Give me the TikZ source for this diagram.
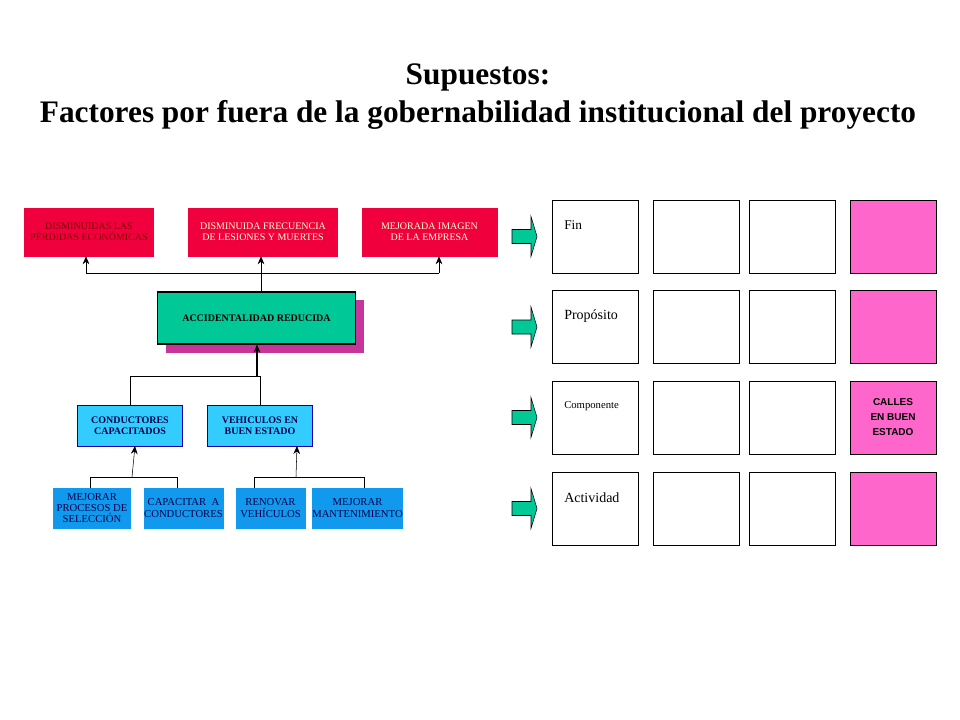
\documentclass[tikz,border=0pt]{standalone}
\usepackage{fontspec}
\setmainfont{Liberation Serif}
\newfontfamily\callesfont{Liberation Sans}
\usetikzlibrary{arrows.meta}
\definecolor{rojo}{HTML}{F0003C}
\definecolor{verde}{HTML}{00C896}
\definecolor{celeste}{HTML}{33CCFF}
\definecolor{azul}{HTML}{1199EE}
\definecolor{magenta}{HTML}{C8359A}
\definecolor{rosa}{HTML}{FF66CC}
\definecolor{amarillo}{HTML}{FFFFCC}
\begin{document}
\begin{tikzpicture}[x=0.75pt,y=-0.75pt,
    txt/.style={font=\fontsize{7.5}{8}\selectfont, align=center, inner sep=0pt},
    redbox/.style={fill=rojo, draw=rojo, txt, text=amarillo},
    cyanbox/.style={fill=celeste, draw=blue!70!black, txt, text=blue!30!black, font=\fontsize{7.5}{8}\selectfont\bfseries},
    bluebox/.style={fill=azul, draw=azul, txt, text=blue!30!black, font=\fontsize{8}{8.5}\selectfont},
    cell/.style={draw=black, fill=white, semithick},
    pinkcell/.style={draw=black, fill=rosa, semithick},
    up/.style={-{Stealth[length=6pt,width=5pt]}, black}]
\useasboundingbox (0,0) rectangle (960,720);
% title
\node[font=\fontsize{23.5}{28}\selectfont\bfseries] (title) at (478,77) {Supuestos:};
\node[font=\fontsize{23.5}{28}\selectfont\bfseries] (title2) at (478,115) {Factores por fuera de la gobernabilidad institucional del proyecto};
% top level
\node[redbox, minimum width=97pt, minimum height=36pt, text=red!50!black] (perdidas) at (89,232) {DISMINUIDAS LAS\\P\'ERDIDAS ECON\'OMICAS};
\node[redbox, minimum width=112pt, minimum height=36pt] (lesiones) at (263,232) {DISMINUIDA FRECUENCIA\\DE LESIONES Y MUERTES};
\node[redbox, minimum width=101pt, minimum height=36pt] (imagen) at (429.5,232) {MEJORADA IMAGEN\\DE LA EMPRESA};
% middle
\fill[magenta] (166,300) rectangle (364,353);
\node[draw=black, fill=verde, thick, txt, font=\fontsize{7.5}{8}\selectfont\bfseries, minimum width=148pt, minimum height=39pt] (accid) at (256.5,318) {ACCIDENTALIDAD REDUCIDA};
\coordinate (split) at (261,273);
\draw (accid.north -| split) -- (split);
\draw (86,273) -- (439,273);
\draw[up] (86,273) -- (perdidas.south -| 86,0);
\draw[up] (439,273) -- (imagen.south -| 439,0);
\draw[up] (split) -- (lesiones.south -| split);
% second level
\node[cyanbox, minimum width=79pt, minimum height=31pt] (conductores) at (130,425.5) {CONDUCTORES\\CAPACITADOS};
\node[cyanbox, minimum width=79pt, minimum height=31pt] (vehiculos) at (260,425.5) {VEHICULOS EN\\BUEN ESTADO};
\draw (conductores.north) -- (130,376) -- (260,376) -- (vehiculos.north);
\draw[up, thick] (257,376) -- (accid.south -| 257,0);
% bottom level
\node[bluebox, minimum width=58pt, minimum height=30pt] (seleccion) at (92,508) {MEJORAR\\PROCESOS DE\\SELECCI\'ON};
\node[bluebox, minimum width=58pt, minimum height=30pt] (capacitar) at (183.5,508) {CAPACITAR \ A\\CONDUCTORES};
\node[bluebox, minimum width=52pt, minimum height=30pt] (renovar) at (270.5,508) {RENOVAR\\VEH\'ICULOS};
\node[bluebox, minimum width=65pt, minimum height=30pt] (mantenim) at (357.5,508) {MEJORAR\\MANTENIMIENTO};
\draw (90,488) -- (90,477) -- (177,477) -- (177,488);
\draw[up] (132,477) -- (135,446);
\draw (254,488) -- (254,477) -- (364,477) -- (364,488);
\draw[up] (296,477) -- (297,446);
% matrix
\foreach \r/\y/\lab/\sz in {1/236.5/Fin/10, 2/327/Prop\'osito/10.5, 3/417.5/Componente/8, 4/508.5/Actividad/10.5} {
  \draw[fill=verde] (512,\y-7) -- (531,\y-7) -- (531,\y-20) -- (537,\y) -- (531,\y+20) -- (531,\y+7) -- (512,\y+7) -- cycle;
  \draw[cell] (552,\y-36.5) rectangle (638,\y+36.5);
  \draw[cell] (653,\y-36.5) rectangle (739,\y+36.5);
  \draw[cell] (749,\y-36.5) rectangle (835,\y+36.5);
  \draw[pinkcell] (850,\y-36.5) rectangle (936,\y+36.5);
  \node[anchor=west, font=\fontsize{\sz}{12}\selectfont, inner sep=0pt] (etiq\r) at (564,\y-11) {\lab};
}
\node[font=\callesfont\bfseries\fontsize{7.5}{11}\selectfont, align=center] (calles) at (893,417) {CALLES\\EN BUEN\\ESTADO};
\end{tikzpicture}
\end{document}
